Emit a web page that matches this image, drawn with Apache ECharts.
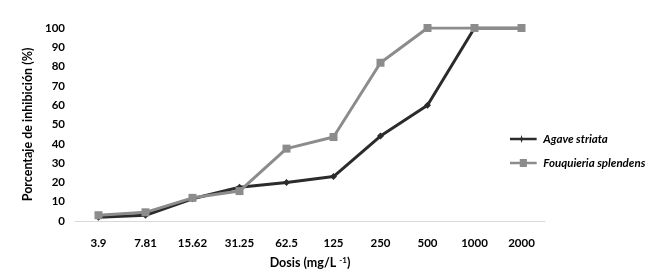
<!DOCTYPE html>
<html>
<head>
<meta charset="utf-8">
<script src="https://cdn.jsdelivr.net/npm/echarts@6/dist/echarts.min.js"></script>
<style>
  html, body { margin: 0; padding: 0; background: #fff; }
  #chart { width: 672px; height: 279px; }
</style>
</head>
<body>
<div id="chart"></div>
<script>
  // dose categories (mg/L)
  var doses = ['3.9', '7.81', '15.62', '31.25', '62.5', '125', '250', '500', '1000', '2000'];
  // % inhibition
  var agave = [2, 3, 11.5, 17.5, 20, 23, 44, 60, 100, 100];
  var fouquieria = [3, 4.5, 12, 15.5, 37.5, 43.5, 82, 100, 100, 100];

  var font = 'Lato';
  var chart = echarts.init(document.getElementById('chart'));
  chart.setOption({
    animation: false,
    textStyle: { fontFamily: font },
    grid: { left: 75, right: 127, top: 28, bottom: 58 },
    legend: {
      orient: 'vertical',
      left: 505,
      top: 128,
      itemWidth: 30,
      itemHeight: 8,
      itemGap: 12,
      textStyle: { fontFamily: font, fontStyle: 'italic', fontWeight: 'bold', fontSize: 11.5, color: '#000' },
      data: [
        { name: 'Agave striata', icon: 'path://M0,3 L12,3 L13,0 L14,3 L30,3 L30,6 L14,6 L13,9 L12,6 L0,6 Z' },
        { name: 'Fouquieria splendens', icon: 'path://M0,3 L11,3 L11,0 L19,0 L19,3 L30,3 L30,6 L19,6 L19,9 L11,9 L11,6 L0,6 Z' }
      ]
    },
    xAxis: {
      type: 'category',
      data: doses,
      boundaryGap: true,
      name: 'Dosis (mg/L {sup|-1})',
      nameLocation: 'middle',
      nameGap: 35,
      nameTextStyle: {
        fontFamily: font, fontWeight: 'bold', fontSize: 12.5, color: '#000',
        rich: { sup: { fontSize: 8, fontWeight: 'bold', verticalAlign: 'top', padding: [0, 0, 6, 0], fontFamily: font } }
      },
      axisLine: { lineStyle: { color: '#d9d9d9', width: 1 } },
      axisTick: { show: false },
      axisLabel: { fontFamily: font, fontWeight: 'bold', fontSize: 11.5, color: '#000', margin: 16 }
    },
    yAxis: {
      type: 'value',
      min: 0,
      max: 100,
      interval: 10,
      name: 'Porcentaje de inhibición (%)',
      nameLocation: 'middle',
      nameGap: 37,
      nameTextStyle: { fontFamily: font, fontWeight: 'bold', fontSize: 12.5, color: '#000' },
      axisLine: { show: false },
      axisTick: { show: false },
      splitLine: { show: false },
      axisLabel: { fontFamily: font, fontWeight: 'bold', fontSize: 11.5, color: '#000', margin: 10 }
    },
    series: [
      {
        name: 'Agave striata',
        type: 'line',
        data: agave,
        symbol: 'diamond',
        symbolSize: 7,
        lineStyle: { color: '#2b2b2b', width: 3 },
        itemStyle: { color: '#2b2b2b' },
        z: 2
      },
      {
        name: 'Fouquieria splendens',
        type: 'line',
        data: fouquieria,
        symbol: 'rect',
        symbolSize: 8,
        lineStyle: { color: '#8c8c8c', width: 3 },
        itemStyle: { color: '#8c8c8c' },
        z: 3
      }
    ]
  });
</script>
</body>
</html>
